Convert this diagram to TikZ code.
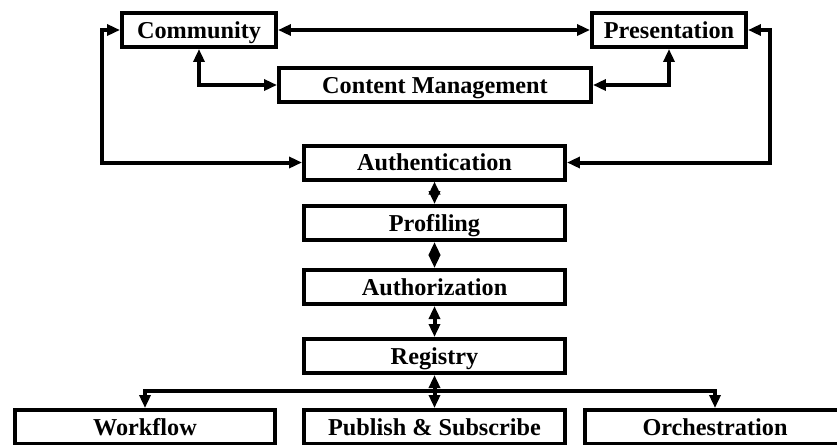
\documentclass[tikz,border=0pt]{standalone}
\usepackage{fontspec}
\setmainfont{Liberation Serif}
\usetikzlibrary{calc}
\usetikzlibrary{arrows.meta}

\begin{document}
\begin{tikzpicture} [x=0.02cm, y=-0.02cm,
  box/.style={draw, line width=0.08cm, minimum height=0.68cm, inner sep=0pt,
    text height=11pt, text depth=1.8pt,
    font=\fontsize{13.8}{16}\selectfont\bfseries},
  link/.style={line width=0.08cm, >={Triangle[length=0.26cm, width=0.22cm]}}]
\useasboundingbox (0,0) rectangle (837,444);
\clip (0,0) rectangle (837,444);
\node [box, minimum width=3.08cm] (comm) at (199,30) {Community};
\node [box, minimum width=3.08cm] (pres) at (669,30) {Presentation};
\node [box, minimum width=6.24cm] (cm) at (435,85) {Content Management};
\node [box, minimum width=5.22cm] (auth) at (434.5,162.5) {Authentication};
\node [box, minimum width=5.22cm] (prof) at (434.5,223) {Profiling};
\node [box, minimum width=5.22cm] (authz) at (434.5,287) {Authorization};
\node [box, minimum width=5.22cm] (reg) at (434.5,356) {Registry};
\node [box, minimum width=5.2cm] (wf) at (145,427) {Workflow};
\node [box, minimum width=5.22cm] (pub) at (434.5,427) {Publish \& Subscribe};
\node [box, minimum width=5.2cm] (orch) at (715,427) {Orchestration};
\coordinate (bus) at (434.5,391);
\draw[link, <->] (comm) -- (pres);
\draw[link, <->] (comm.south) |- (cm.west);
\draw[link, <->] (pres.south) |- (cm.east);
\draw[link, <->] (comm.west) -- ++(-18,0) |- (auth.west);
\draw[link, <->] (pres.east) -- ++(22,0) |- (auth.east);
\draw[link, <->] (auth) -- (prof);
\draw[link, <->] (prof) -- (authz);
\draw[link, <->] (authz) -- (reg);
\draw[link, <->] (reg) -- (pub);
\draw[link, ->] (bus) -| (wf.north);
\draw[link, ->] (bus) -| (orch.north);
\end{tikzpicture}
\end{document}
